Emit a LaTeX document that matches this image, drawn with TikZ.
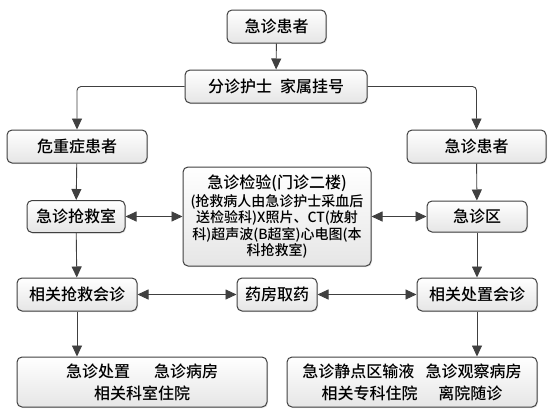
\documentclass[tikz,border=0pt]{standalone}
\usepackage{fontspec}
\setmainfont{Noto Sans CJK SC}[UprightFont=* Medium]
\usepackage{xcolor}
\usetikzlibrary{arrows.meta,shadows}

\begin{document}
\begin{tikzpicture}[x=1pt,y=-1pt,
			box/.style={draw=black!75,line width=1pt,rounded corners=5pt,top color=white,bottom color=black!10,
				drop shadow={opacity=0.2,shadow xshift=1pt,shadow yshift=-1pt},minimum height=33pt,inner sep=0pt,
				font=\fontsize{16}{20}\selectfont,align=center},
			link/.style={draw=black!75,line width=0.9pt,-{Triangle[length=11pt,width=10pt]}},
			both/.style={draw=black!75,line width=0.9pt,{Triangle[length=11pt,width=10pt]}-{Triangle[length=11pt,width=10pt]}}]
			\fill[white] (0,0) rectangle (554,415);
			\useasboundingbox (0,0) rectangle (554,415);
			\node[box,minimum width=99pt] (patient) at (276.5,26.5) {急诊患者};
			\node[box,minimum width=182pt] (triage) at (276,86.5) {分诊护士\hspace{0.5em}家属挂号};
			\node[box,minimum width=140pt] (critical) at (77,146.5) {危重症患者};
			\node[box,minimum width=139pt] (general) at (476.5,146.5) {急诊患者};
			\node[box,minimum width=98pt,minimum height=32pt] (rescue) at (76,216.5) {急诊抢救室};
			\node[box,minimum width=188pt,minimum height=99pt,font=\fontsize{14}{16.5}\selectfont] (lab) at (277,216.5)
				{{\fontsize{16}{16.5}\selectfont 急诊检验(门诊二楼)}\\[1.5pt]
				(抢救病人由急诊护士采血后\\送检验科)X照片、CT(放射\\科)超声波(B超室)心电图(本\\科抢救室)};
			\node[box,minimum width=100pt,minimum height=31pt] (area) at (477,216.5) {急诊区};
			\node[box,minimum width=120pt] (rconsult) at (77,294.5) {相关抢救会诊};
			\node[box,minimum width=80pt] (pharmacy) at (277,294.5) {药房取药};
			\node[box,minimum width=120pt] (gconsult) at (477,294.5) {相关处置会诊};
			\node[box,minimum width=250pt,minimum height=50pt,font=\fontsize{16}{22}\selectfont] (outleft) at (142,382)
				{急诊处置\hspace{1.5em}急诊病房\\相关科室住院};
			\node[box,minimum width=250pt,minimum height=50pt,font=\fontsize{16}{22}\selectfont] (outright) at (412,382)
				{急诊静点区输液\hspace{0.7em}急诊观察病房\\相关专科住院\hspace{1.3em}离院随诊};
			\draw[link] (patient) -- (triage);
			\draw[link,rounded corners=4pt] (triage.west) -| (critical.north);
			\draw[link,rounded corners=4pt] (triage.east) -| (general.north);
			\draw[link] (critical) -- (rescue);
			\draw[link] (general) -- (area);
			\draw[link] (rescue) -- (rconsult);
			\draw[link] (area) -- (gconsult);
			\draw[link] (rconsult.south) -- (rconsult.south |- outleft.north);
			\draw[link] (gconsult.south) -- (gconsult.south |- outright.north);
			\draw[both] (rescue) -- (lab);
			\draw[both] (lab) -- (area);
			\draw[both] (rconsult) -- (pharmacy);
			\draw[both] (pharmacy) -- (gconsult);
		\end{tikzpicture}
\end{document}
